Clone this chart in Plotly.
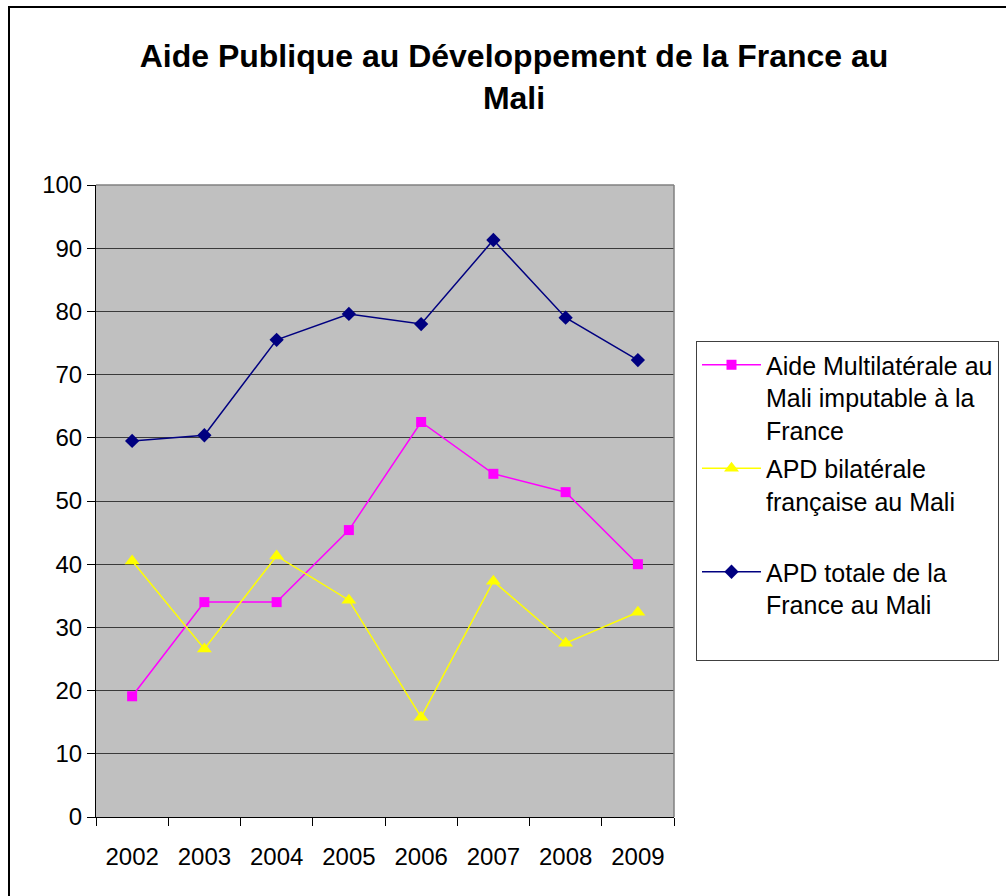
import plotly.graph_objects as go

years = ["2002", "2003", "2004", "2005", "2006", "2007", "2008", "2009"]
multilaterale = [19.1, 34.0, 34.0, 45.4, 62.5, 54.3, 51.4, 40.0]
bilaterale = [40.5, 26.6, 41.3, 34.3, 15.8, 37.3, 27.5, 32.4]
totale = [59.5, 60.4, 75.5, 79.6, 78.0, 91.3, 79.0, 72.3]

names = [
    "Aide Multilatérale au<br>Mali imputable à la<br>France",
    "APD bilatérale<br>française au Mali<br>\u00a0",
    "APD totale de la<br>France au Mali<br>\u00a0",
]

FONT = "Liberation Sans, Arial, sans-serif"

fig = go.Figure()
fig.add_trace(go.Scatter(
    x=years, y=multilaterale, name=names[0], mode="lines+markers", legendgroup="a",
    line=dict(color="#FF00FF", width=1.5),
    marker=dict(symbol="square", size=10, color="#FF00FF"),
))
fig.add_trace(go.Scatter(
    x=years, y=bilaterale, name=names[1], mode="lines+markers", legendgroup="b",
    line=dict(color="#FFFF00", width=1.5),
    marker=dict(symbol="triangle-up", size=13, color="#FFFF00"),
))
fig.add_trace(go.Scatter(
    x=years, y=totale, name=names[2], mode="lines+markers", legendgroup="c",
    line=dict(color="#000080", width=1.5),
    marker=dict(symbol="diamond", size=11, color="#000080"),
))

L, R, T, B = 96, 674, 185, 817
W, H = 1006, 896

def px(x):
    return (x - L) / (R - L)

def py(y):
    return (B - y) / (B - T)

fig.update_layout(
    width=W, height=H,
    margin=dict(l=L, r=W - R, t=T, b=H - B, autoexpand=False),
    paper_bgcolor="white",
    plot_bgcolor="#C0C0C0",
    font=dict(family=FONT, color="black", size=24),
    title=dict(
        text="<b>Aide Publique au Développement de la France au<br>Mali</b>",
        x=514 / W, xanchor="center", xref="container",
        y=1 - 67 / H, yanchor="top", yref="container",
        font=dict(family=FONT, size=32, color="black"),
    ),
    showlegend=True,
    legend=dict(
        x=px(696), y=py(341), xanchor="left", yanchor="top",
        bordercolor="#404040", borderwidth=1, bgcolor="white",
        font=dict(family=FONT, size=25, color="black"),
        valign="top", tracegroupgap=3, itemwidth=59,
    ),
    xaxis=dict(
        type="category", range=[-0.5, 7.5],
        showgrid=False, showline=True, linecolor="black", linewidth=1,
        ticks="outside", ticklen=8, tickcolor="black", tickson="boundaries",
        ticklabelstandoff=18,
        mirror=False, zeroline=False,
    ),
    yaxis=dict(
        range=[0, 100], dtick=10, tick0=0,
        showgrid=True, gridcolor="#3a3a3a", gridwidth=1,
        showline=True, linecolor="black", linewidth=1,
        ticks="outside", ticklen=8, tickcolor="black",
        zeroline=False,
    ),
    shapes=[
        dict(type="rect", xref="paper", yref="paper",
             x0=px(9), x1=px(1012), y0=py(902), y1=py(7),
             line=dict(color="black", width=2), fillcolor="rgba(0,0,0,0)", layer="below"),
        dict(type="line", xref="paper", yref="paper",
             x0=0, x1=1, y0=1, y1=1, line=dict(color="#808080", width=1.5)),
        dict(type="line", xref="paper", yref="paper",
             x0=1, x1=1, y0=0, y1=1, line=dict(color="#808080", width=1.5)),
    ],
)

fig.write_html(
    "out.html",
    config={"displayModeBar": False},
    post_script="document.body.style.margin='0';document.body.style.overflow='hidden';",
)
